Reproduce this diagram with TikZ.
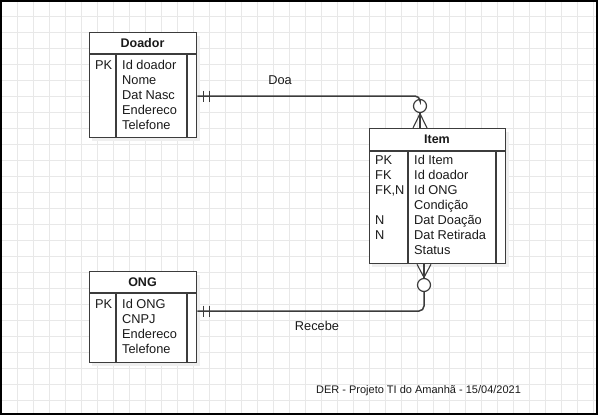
\documentclass[tikz,border=0pt]{standalone}
\usepackage{fontspec}
\setmainfont{Liberation Sans}
\usetikzlibrary{calc}
\definecolor{gridc}{HTML}{E8E8E8}
\definecolor{linec}{HTML}{3C3C3C}
\definecolor{txtc}{HTML}{1A1A1A}
\definecolor{shadc}{HTML}{EFEFEF}
\tikzset{
  gridl/.style={draw=gridc, line width=0.9pt},
  tbox/.style={draw=linec, line width=1.3pt, fill=white, inner sep=0pt, anchor=north west},
  tline/.style={draw=linec, line width=1.3pt},
  hdr/.style={font=\fontsize{12.5}{15}\selectfont\bfseries, text=txtc, inner sep=0pt},
  cell/.style={font=\fontsize{12.8}{15}\selectfont, text=txtc, inner sep=0pt, anchor=west, text height=9.3pt, text depth=2.6pt},
  conn/.style={draw=linec, line width=1.5pt},
  circ/.style={draw=linec, line width=1.2pt, circle, minimum size=13pt, inner sep=0pt, fill=white},
  lbl/.style={font=\fontsize{12.8}{15}\selectfont, text=txtc, inner sep=0pt},
  foot/.style={font=\fontsize{11}{13}\selectfont, text=txtc, inner sep=0pt}
}
\begin{document}
\begin{tikzpicture}[x=1pt,y=-1pt]
\useasboundingbox (0,0) rectangle (601,418);
\fill[white] (0,0) rectangle (601,418);
% grid
\foreach \x in {17,33,...,593} \draw[gridl] (\x,2) -- (\x,413);
\foreach \y in {16,32,...,412} \draw[gridl] (2,\y) -- (596,\y);
% frame
\draw[black, line width=2pt] (1,1) rectangle (597,414);

% ---------- Doador ----------
\fill[shadc] (92,36) rectangle (200,141);
\node[tbox, minimum width=107pt, minimum height=105pt] (doador) at (89,32) {};
\draw[tline] (89,54) -- (196,54);
\draw[tline] (116,54) -- (116,137);
\draw[tline] (187,54) -- (187,137);
\node[hdr] (doadorh) at (142.5,43) {Doador};
\foreach \k/\v [count=\i] in {PK/Id doador, /Nome, /Dat Nasc, /Endereco, /Telefone}{
  \node[cell] (dk\i) at (95,{66+15.1*(\i-1)}) {\k};
  \node[cell] (dv\i) at (122,{66+15.1*(\i-1)}) {\v};
}

% ---------- Item ----------
\fill[shadc] (372,132) rectangle (509,267);
\node[tbox, minimum width=136pt, minimum height=135pt] (item) at (369,128) {};
\draw[tline] (369,151) -- (505,151);
\draw[tline] (408,151) -- (408,263);
\draw[tline] (496,151) -- (496,263);
\node[hdr] (itemh) at (437,139.5) {Item};
\foreach \k/\v [count=\i] in {PK/Id Item, FK/Id doador, {FK,N}/Id ONG, /Condição, N/Dat Doação, N/Dat Retirada, /Status}{
  \node[cell] (ik\i) at (375,{161+15.1*(\i-1)}) {\k};
  \node[cell] (iv\i) at (414,{161+15.1*(\i-1)}) {\v};
}

% ---------- ONG ----------
\fill[shadc] (92,275) rectangle (200,366);
\node[tbox, minimum width=107pt, minimum height=91pt] (ong) at (89,271) {};
\draw[tline] (89,293) -- (196,293);
\draw[tline] (116,293) -- (116,362);
\draw[tline] (187,293) -- (187,362);
\node[hdr] (ongh) at (142.5,282) {ONG};
\foreach \k/\v [count=\i] in {PK/Id ONG, /CNPJ, /Endereco, /Telefone}{
  \node[cell] (ok\i) at (95,{305+15.1*(\i-1)}) {\k};
  \node[cell] (ov\i) at (122,{305+15.1*(\i-1)}) {\v};
}

% ---------- Doa ----------
\coordinate (dA) at ($(doador.north east)+(0,64)$);
\node[circ] (c1) at (420,106) {};
\coordinate (i1) at ($(item.north west)+(51,0)$);
\draw[conn, rounded corners=5pt] (dA) -- (c1.north |- dA) -- (c1.north);
\draw[conn] ($(dA)+(6,-5.5)$) -- ($(dA)+(6,5.5)$);
\draw[conn] ($(dA)+(12,-5.5)$) -- ($(dA)+(12,5.5)$);
\draw[conn, line width=1.1pt] (c1.south) -- (i1);
\draw[conn, line width=1.1pt] ($(c1.south)+(0,0.5)$) -- ($(i1)+(-7,0)$);
\draw[conn, line width=1.1pt] ($(c1.south)+(0,0.5)$) -- ($(i1)+(7,0)$);
\node[lbl] (doa) at (280,80) {Doa};

% ---------- Recebe ----------
\coordinate (oA) at ($(ong.north east)+(0,40)$);
\node[circ] (c2) at (424,285) {};
\coordinate (i2) at ($(item.south west)+(55,0)$);
\draw[conn, rounded corners=5pt] (oA) -- (c2.south |- oA) -- (c2.south);
\draw[conn] ($(oA)+(6,-5.5)$) -- ($(oA)+(6,5.5)$);
\draw[conn] ($(oA)+(12,-5.5)$) -- ($(oA)+(12,5.5)$);
\draw[conn, line width=1.1pt] (c2.north) -- (i2);
\draw[conn, line width=1.1pt] ($(c2.north)+(0,-0.5)$) -- ($(i2)+(-7,0)$);
\draw[conn, line width=1.1pt] ($(c2.north)+(0,-0.5)$) -- ($(i2)+(7,0)$);
\node[lbl] (rec) at (317,326) {Recebe};

% footer
\node[foot] (ft) at (418.5,391) {DER - Projeto TI do Amanhã - 15/04/2021};
\end{tikzpicture}
\end{document}
